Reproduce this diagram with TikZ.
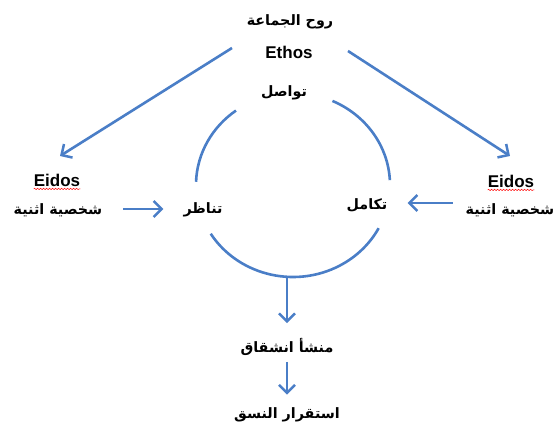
\documentclass[tikz,border=0pt]{standalone}
\usepackage{fontspec}
\setmainfont{Liberation Sans}
\newfontfamily\arabicfont[Script=Arabic]{DejaVu Sans}
\TeXXeTstate=1
\usetikzlibrary{arrows.meta,decorations.pathmorphing}
\definecolor{lineblue}{HTML}{4A7EC7}
\tikzset{
  ar/.style={font=\arabicfont\bfseries\fontsize{14.3}{16}\selectfont, inner sep=0pt},
  la/.style={font=\bfseries\fontsize{17}{19}\selectfont, inner sep=0pt},
  ring/.style={draw=lineblue, line width=2.6pt},
  conn/.style={draw=lineblue, line width=2.6pt, -{Straight Barb[length=8pt,width=16pt,line width=2.5pt]}},
  wavy/.style={draw=red, line width=0.5pt, decorate, decoration={snake, segment length=3pt, amplitude=0.7pt}}
}
\begin{document}
\begin{tikzpicture}[x=1pt,y=1pt]
\useasboundingbox (0,0) rectangle (559,428);
% texts
\node[ar] (ruh) at (290,406) {\beginR روح الجماعة\endR};
\node[la] (ethos) at (289,376) {Ethos};
\node[ar] (tawasul) at (284,335) {\beginR تواصل\endR};
\node[la] (eidosL) at (57,248) {Eidos};
\node[ar] (arL) at (58,218) {\beginR شخصية اثنية\endR};
\node[la] (eidosR) at (511,247) {Eidos};
\node[ar] (arR) at (510,218) {\beginR شخصية اثنية\endR};
\node[ar] (tanazur) at (203,218) {\beginR تناظر\endR};
\node[ar] (takamul) at (367,223) {\beginR تكامل\endR};
\node[ar] (mansha) at (287,81) {\beginR منشأ انشقاق\endR};
\node[ar] (istiqrar) at (287,13) {\beginR استقرار النسق\endR};
% spell-check underlines
\draw[wavy] ([yshift=-2.5pt]eidosL.south west) -- ([yshift=-2.5pt]eidosL.south east);
\draw[wavy] ([yshift=-2.5pt]eidosR.south west) -- ([yshift=-2.5pt]eidosR.south east);
% ring (ellipse arcs)
\coordinate (c) at (293,243);
\draw[ring] (c) ++(126:97 and 92) arc[start angle=126, end angle=178, x radius=97, y radius=92];
\draw[ring] (c) ++(66:97 and 92) arc[start angle=66, end angle=3, x radius=97, y radius=92];
\draw[ring] (c) ++(212:97 and 92) arc[start angle=212, end angle=332, x radius=97, y radius=92];
\coordinate (cb) at (287,151.5);
% connectors
\coordinate (tl) at (232,380);
\coordinate (tlend) at (60,272);
\coordinate (tr) at (348,377);
\coordinate (trend) at (510,272);
\draw[conn] (tl) -- (tlend);
\draw[conn] (tr) -- (trend);
\draw[conn] ([xshift=21pt,yshift=1pt]arL.east) -- ([xshift=-20pt,yshift=1pt]tanazur.west);
\draw[conn] ([xshift=-13pt,yshift=2pt]arR.west |- takamul) -- ([xshift=20pt,yshift=2pt]takamul.east);
\draw[conn] (cb) -- ([yshift=15pt]mansha.north);
\draw[conn] ([yshift=-6pt]mansha.south) -- ([yshift=13pt]istiqrar.north);
\end{tikzpicture}
\end{document}
